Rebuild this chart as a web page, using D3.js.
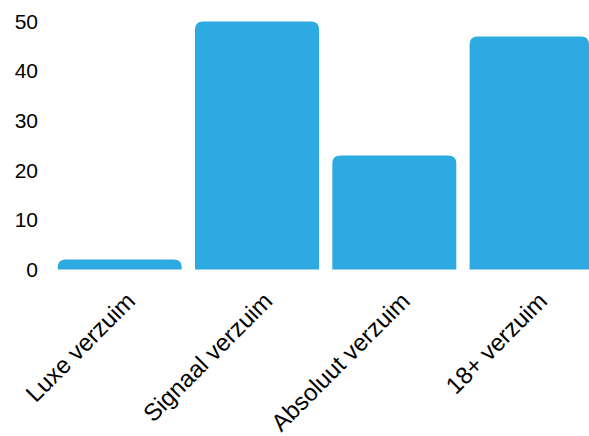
<!DOCTYPE html>
<html>
<head>
<meta charset="utf-8">
<script src="https://cdn.jsdelivr.net/npm/d3@7"></script>
<style>
  html, body { margin: 0; padding: 0; background: #fff; }
  svg { display: block; font-family: "Liberation Sans", Arial, sans-serif; }
</style>
</head>
<body>
<div id="chart"></div>
<script>
const categories = ["Luxe verzuim", "Signaal verzuim", "Absoluut verzuim", "18+ verzuim"];
const values = [2, 50, 23, 47];
const yTicks = [0, 10, 20, 30, 40, 50];

const W = 589, H = 436;
const y0 = 269.5, yTop = 21.5;
const color = "#2eaae2";

const svg = d3.select("#chart").append("svg").attr("width", W).attr("height", H);

const x = d3.scaleBand().domain(categories)
  .range([57.7, 57.7 + 3 * 137.3 + 124])
  .paddingInner(13.3 / 137.3).paddingOuter(0);
const y = d3.scaleLinear().domain([0, 50]).range([y0, yTop]);

function topRounded(x0, yT, w, h, r) {
  r = Math.min(r, h, w / 2);
  return `M${x0},${yT + h}V${yT + r}Q${x0},${yT} ${x0 + r},${yT}H${x0 + w - r}Q${x0 + w},${yT} ${x0 + w},${yT + r}V${yT + h}Z`;
}

svg.append("g").selectAll("path").data(categories).join("path")
  .attr("fill", color)
  .attr("d", (c, i) => {
    const bx = x(c);
    const bw = Math.min(x.bandwidth(), W - bx);
    const top = y(values[i]);
    return topRounded(bx, top, bw, y0 - top, 8);
  });

const yAxis = svg.append("g").attr("transform", "translate(40,0)")
  .call(d3.axisLeft(y).tickValues(yTicks).tickSize(0).tickPadding(2));
yAxis.select(".domain").remove();
yAxis.selectAll("text").attr("font-size", 21).attr("fill", "#000")
  .attr("font-family", "Liberation Sans, Arial, sans-serif");

const xAxis = svg.append("g").attr("transform", `translate(0,${y0})`)
  .call(d3.axisBottom(x).tickSize(0));
xAxis.select(".domain").remove();
xAxis.selectAll("text")
  .attr("font-size", 24).attr("fill", "#000")
  .attr("font-family", "Liberation Sans, Arial, sans-serif")
  .attr("text-anchor", "end")
  .attr("x", 0).attr("y", 0).attr("dy", 0)
  .attr("transform", "translate(17,33) rotate(-45)");
</script>
</body>
</html>
